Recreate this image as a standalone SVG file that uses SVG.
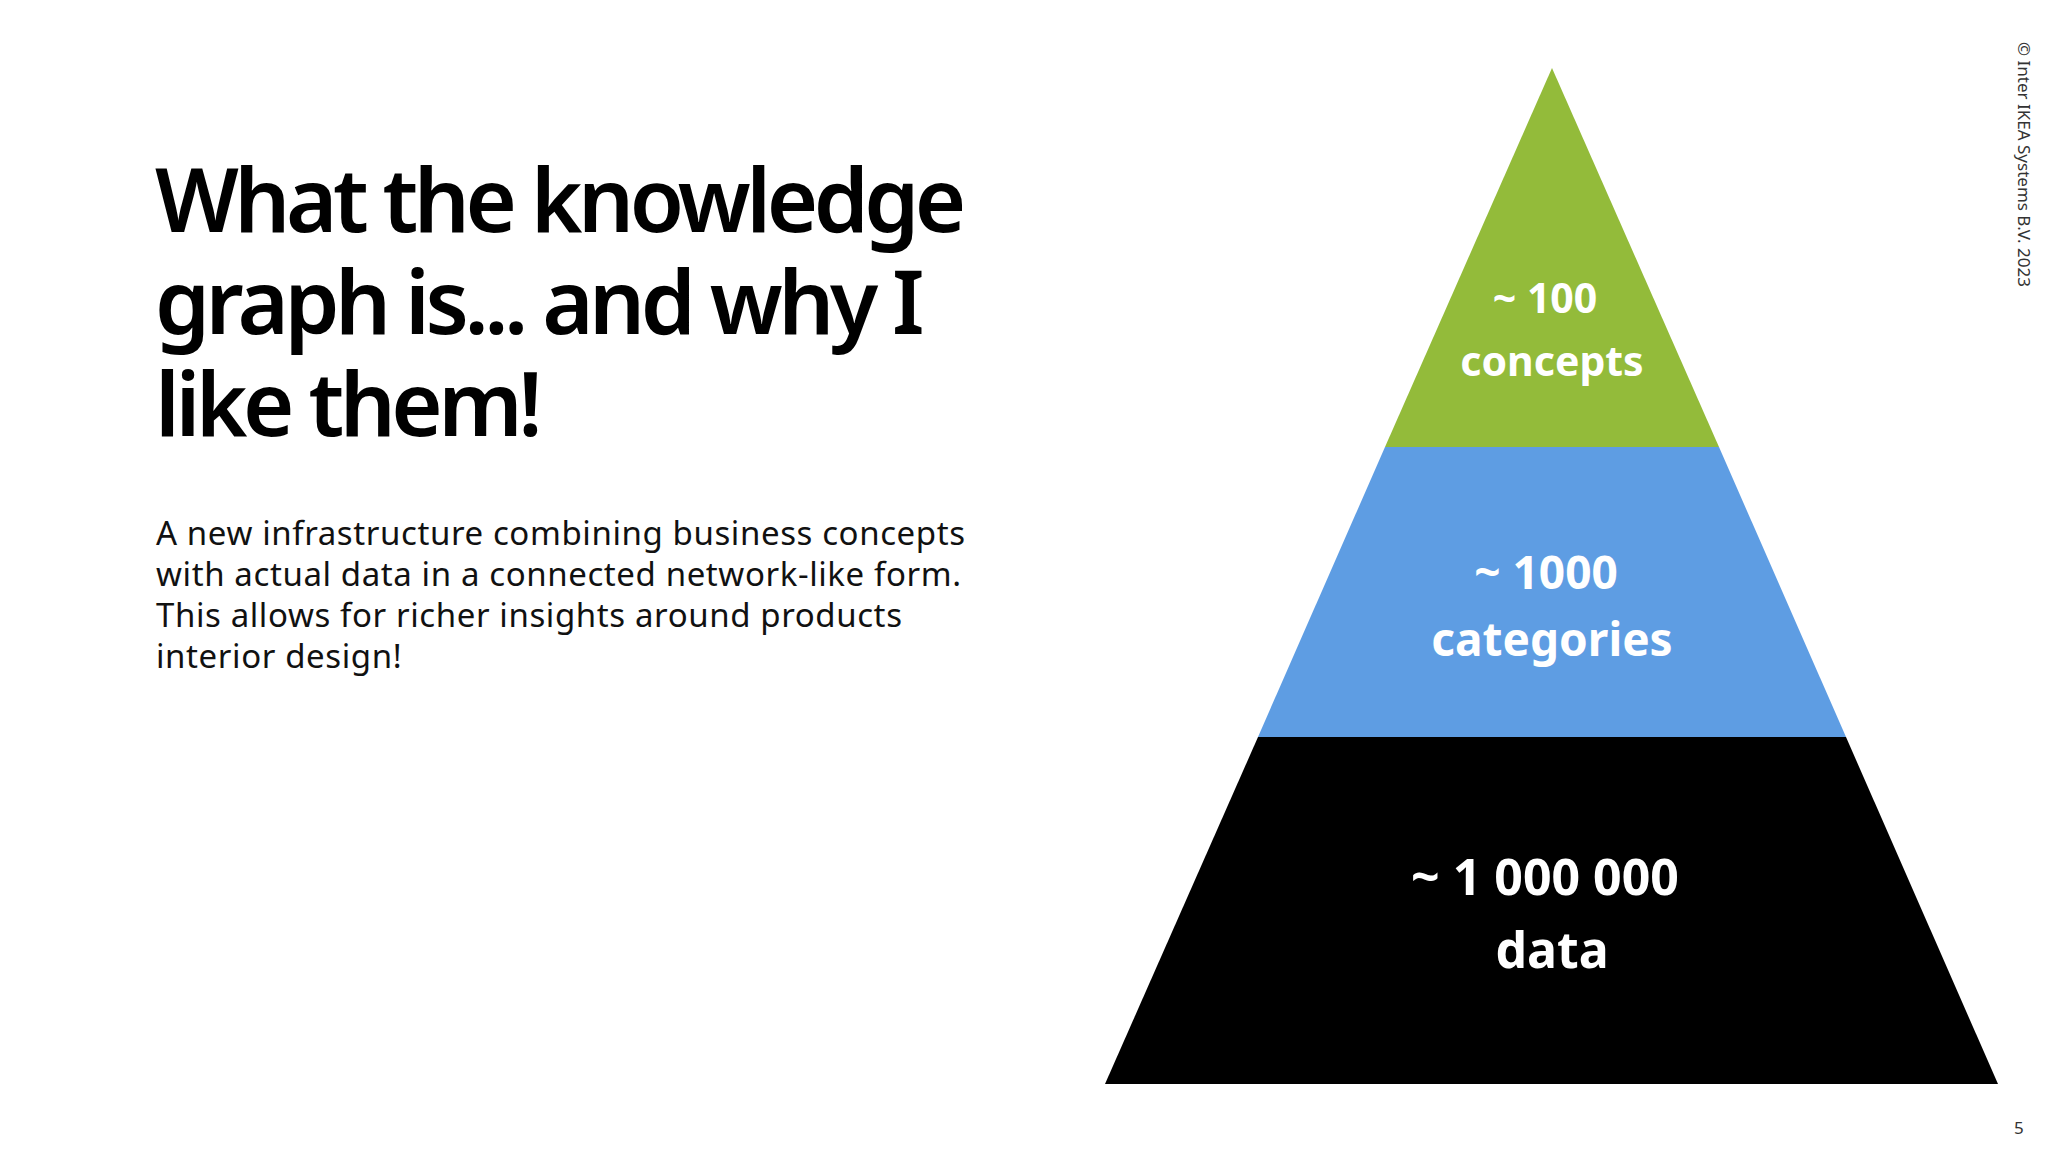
<svg xmlns="http://www.w3.org/2000/svg" width="2048" height="1152" viewBox="0 0 2048 1152">
<style>
.t{font-family:"Noto Sans","Open Sans",sans-serif;font-weight:600;font-size:88px;letter-spacing:-4.5px;fill:#000}
.b{font-family:"Noto Sans","Open Sans",sans-serif;font-size:33px;letter-spacing:0.6px;fill:#111}
.p{font-family:"Noto Sans","Open Sans",sans-serif;font-weight:700;fill:#fff;text-anchor:middle}
.s{font-family:"Noto Sans","Open Sans",sans-serif;font-size:17px;fill:#333}
</style>
<rect width="2048" height="1152" fill="#fff"/>
<g id="title">
<text class="t" x="155" y="232">What the knowledge</text>
<text class="t" x="155" y="334">graph is... and why I</text>
<text class="t" x="155" y="436">like them!</text>
</g>
<g id="body">
<text class="b" x="156" y="545">A new infrastructure combining business concepts</text>
<text class="b" x="156" y="586">with actual data in a connected network-like form.</text>
<text class="b" x="156" y="627">This allows for richer insights around products</text>
<text class="b" x="156" y="668">interior design!</text>
</g>
<g id="top">
<polygon points="1552,68 1719,447 1385,447" fill="#93bb3a"/>
<text class="p" x="1545" y="313" font-size="41">~ 100</text>
<text class="p" x="1552" y="376" font-size="41">concepts</text>
</g>
<g id="middle">
<polygon points="1385,447 1719,447 1846,737 1258,737" fill="#5e9de3"/>
<text class="p" x="1546" y="589" font-size="46">~ 1000</text>
<text class="p" x="1552" y="656" font-size="46">categories</text>
</g>
<g id="bottom">
<polygon points="1258,737 1846,737 1998,1084 1105,1084" fill="#000"/>
<text class="p" x="1545" y="895" font-size="50">~ 1 000 000</text>
<text class="p" x="1552" y="968" font-size="50">data</text>
</g>
<g id="connectors"/>
<text class="s" transform="translate(2018,42) rotate(90)">© Inter IKEA Systems B.V. 2023</text>
<text class="s" x="2014" y="1134">5</text>
</svg>
